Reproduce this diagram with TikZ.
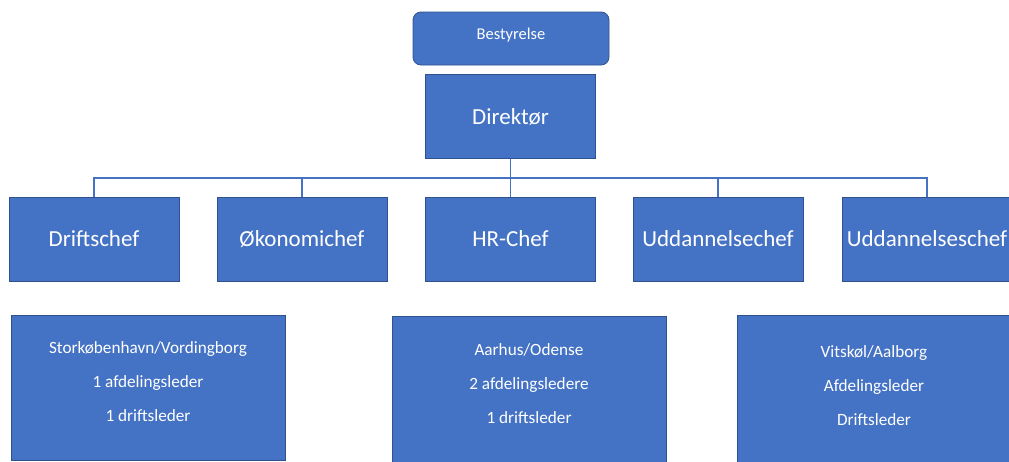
\documentclass[tikz,border=0pt]{standalone}
\usepackage{fontspec}
\setmainfont{Carlito}

\definecolor{officeblue}{HTML}{4472C4}
\definecolor{officeline}{HTML}{2F528F}

\tikzset{
	orgbox/.style={draw=officeline, line width=0.8pt, fill=officeblue, text=white, inner sep=0pt, align=center},
	board/.style={orgbox, rounded corners=8pt, minimum width=196pt, minimum height=53pt, text depth=10pt, font=\fontsize{16.5}{20}\selectfont},
	chef/.style={orgbox, minimum width=170pt, minimum height=84pt, font=\fontsize{23}{28}\selectfont},
	afdeling/.style={orgbox, minimum width=274pt, minimum height=145pt},
	afdelingtekst/.style={text=white, inner sep=0pt, align=center, font=\fontsize{17.2}{34}\selectfont},
	link/.style={draw=officeblue, line width=1.6pt},
	elbow/.style={to path={-| (\tikztotarget)}}
}

\begin{document}
\begin{tikzpicture}[x=1pt,y=-1pt]
	\useasboundingbox (0,0) rectangle (1009,461);

	\node[board] at (511,38.5) (bestyrelse) {Bestyrelse};
	\node[chef] at (510.5,116.5) (direktor) {Direktør};

	\node[chef] at (94,239) (drift) {Driftschef};
	\node[chef] at (302,239) (okonomi) {Økonomichef};
	\node[chef] at (510.5,239) (hr) {HR-Chef};
	\node[chef] at (718,239) (uddannelse) {Uddannelsechef};
	\node[chef] at (927,239) (uddannelses) {Uddannelseschef};

	% afdelinger
	\node[afdeling] at (148,387.5) (oest) {};
	\node[afdeling, minimum height=160pt] at (529,396) (midt) {};
	\node[afdeling, minimum height=160pt] at (874,395) (nord) {};
	\node[afdelingtekst] at (148,382) (oest tekst) {Storkøbenhavn/Vordingborg\\1 afdelingsleder\\1 driftsleder};
	\node[afdelingtekst] at (529,384) (midt tekst) {Aarhus/Odense\\2 afdelingsledere\\1 driftsleder};
	\node[afdelingtekst] at (874,386) (nord tekst) {Vitskøl/Aalborg\\Afdelingsleder\\Driftsleder};

	\coordinate (fork) at (510.5,178);
	\path[link] (direktor) edge (fork)
	(fork)
	edge[elbow] (drift)
	edge[elbow] (okonomi)
	edge (hr)
	edge[elbow] (uddannelse)
	edge[elbow] (uddannelses);

\end{tikzpicture}
\end{document}
